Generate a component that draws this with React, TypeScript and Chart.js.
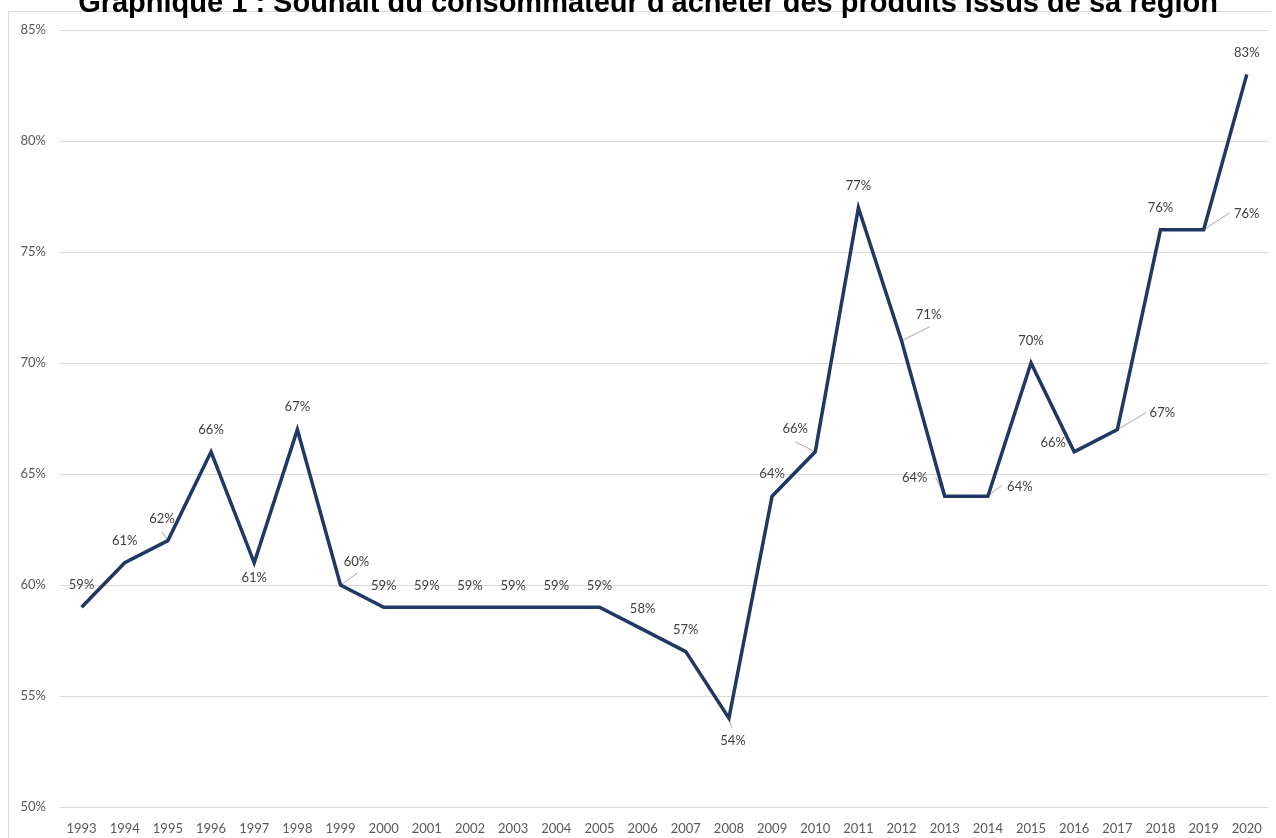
import React, { useEffect, useRef } from "react";
import { Chart, registerables } from "chart.js";

Chart.register(...registerables);

const TITLE = "Graphique 1 : Souhait du consommateur d'acheter des produits issus de sa région";

const years = [
  "1993", "1994", "1995", "1996", "1997", "1998", "1999", "2000", "2001", "2002",
  "2003", "2004", "2005", "2006", "2007", "2008", "2009", "2010", "2011", "2012",
  "2013", "2014", "2015", "2016", "2017", "2018", "2019", "2020",
];

const shares = [
  59, 61, 62, 66, 61, 67, 60, 59, 59, 59,
  59, 59, 59, 58, 57, 54, 64, 66, 77, 71,
  64, 64, 70, 66, 67, 76, 76, 83,
];

const yTicks = [50, 55, 60, 65, 70, 75, 80, 85];

// label placement (offset of label centre from the point), and optional leader end
const labelOffsets: [number, number][] = [
  [0, -22], [0, -22], [-6, -22], [0, -22], [0, 15], [0, -23], [16, -23], [0, -21], [0, -21], [0, -21],
  [0, -21], [0, -21], [0, -21], [0, -21], [0, -22], [4, 23], [0, -22], [-20, -23], [0, -22], [27, -26],
  [-30, -18], [32, -9], [0, -22], [-21, -9], [45, -17], [0, -22], [43, -16], [0, -22],
];

const leaders: ([number, number] | null)[] = [
  null, null, [-6, -9], null, null, null, [17, -12], null, null, null,
  null, null, null, null, null, [3, 10], null, [-20, -10], null, [28, -14],
  [-9, -19], [14, -11], null, null, [29, -17], null, [26, -17], null,
];

const FONT = "Lato, 'Open Sans', sans-serif";

const decorPlugin = {
  id: "decor",
  beforeDraw(chart: any) {
    const ctx = chart.ctx;
    ctx.save();
    ctx.strokeStyle = "#d9d9d9";
    ctx.lineWidth = 1;
    ctx.beginPath();
    ctx.moveTo(8.5, 838);
    ctx.lineTo(8.5, 11.5);
    ctx.lineTo(1271, 11.5);
    ctx.stroke();
    ctx.restore();
  },
  beforeDatasetsDraw(chart: any) {
    const ctx = chart.ctx;
    const meta = chart.getDatasetMeta(0);
    ctx.save();
    ctx.strokeStyle = "#a6a6a6";
    ctx.lineWidth = 1;
    meta.data.forEach((pt: any, i: number) => {
      const l = leaders[i];
      if (!l) return;
      ctx.beginPath();
      ctx.moveTo(pt.x, pt.y);
      ctx.lineTo(pt.x + l[0], pt.y + l[1]);
      ctx.stroke();
    });
    ctx.restore();
  },
  afterDatasetsDraw(chart: any) {
    const ctx = chart.ctx;
    const meta = chart.getDatasetMeta(0);
    ctx.save();
    ctx.font = `13px ${FONT}`;
    ctx.fillStyle = "#404040";
    ctx.textAlign = "center";
    ctx.textBaseline = "middle";
    meta.data.forEach((pt: any, i: number) => {
      const o = labelOffsets[i];
      ctx.fillText(`${shares[i]}%`, pt.x + o[0], pt.y + o[1]);
    });
    ctx.restore();
  },
  afterDraw(chart: any) {
    const ctx = chart.ctx;
    ctx.save();
    ctx.font = "bold 29px 'Liberation Sans', Arial, sans-serif";
    ctx.fillStyle = "#000000";
    ctx.textAlign = "center";
    ctx.textBaseline = "alphabetic";
    ctx.fillText(TITLE, 648, 12);
    ctx.restore();
  },
};

export default function App() {
  const ref = useRef<HTMLCanvasElement>(null);

  useEffect(() => {
    if (!ref.current) return;
    const chart = new Chart(ref.current, {
      type: "line",
      data: {
        labels: years,
        datasets: [
          {
            data: shares,
            borderColor: "#203864",
            borderWidth: 3.5,
            pointRadius: 0,
            tension: 0,
            borderJoinStyle: "miter",
            fill: false,
          },
        ],
      },
      options: {
        animation: false,
        responsive: false,
        devicePixelRatio: 1,
        layout: { padding: { top: 30, right: 6, left: 0, bottom: 0 } },
        plugins: {
          legend: { display: false },
          tooltip: { enabled: false },
          title: { display: false },
        },
        scales: {
          x: {
            type: "category",
            offset: true,
            grid: { display: false, drawTicks: false },
            border: { display: false },
            ticks: {
              autoSkip: false,
              maxRotation: 0,
              padding: 14,
              color: "#595959",
              font: { family: FONT, size: 13 },
            },
            afterFit: (s: any) => {
              s.height = 31;
            },
          },
          y: {
            min: 50,
            max: 85,
            afterBuildTicks: (s: any) => {
              s.ticks = yTicks.map((v) => ({ value: v }));
            },
            grid: { color: "#d9d9d9", lineWidth: 1, drawTicks: false },
            border: { display: false },
            ticks: {
              padding: 14,
              color: "#595959",
              font: { family: FONT, size: 13 },
              callback: (v: any) => `${v}%`,
            },
            afterFit: (s: any) => {
              s.width = 60;
            },
          },
        },
      },
      plugins: [decorPlugin],
    });
    return () => chart.destroy();
  }, []);

  return (
    <div style={{ position: "absolute", left: 0, top: 0, width: 1276, height: 838, background: "#fff" }}>
      <canvas ref={ref} width={1276} height={838} style={{ display: "block" }} />
    </div>
  );
}
